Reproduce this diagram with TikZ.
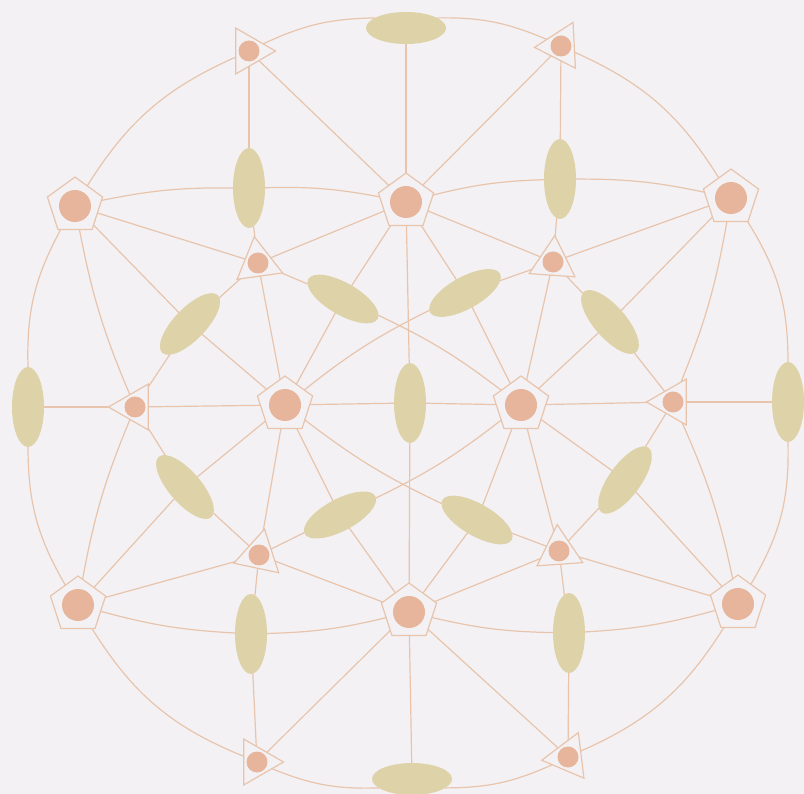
\documentclass[tikz,border=0pt]{standalone}
\usetikzlibrary{shapes.geometric}
\definecolor{bgc}{RGB}{243,241,244}
\definecolor{linec}{RGB}{232,196,172}
\definecolor{dotc}{RGB}{230,181,156}
\definecolor{ellc}{RGB}{222,210,168}
\begin{document}
\begin{tikzpicture}[x=1pt,y=1pt,
  edge/.style={draw=linec, line width=1.2pt},
  pent/.style={regular polygon, regular polygon sides=5, minimum size=58pt, inner sep=0pt, outer sep=0pt, draw=linec, line width=1.2pt, fill=bgc},
  tri/.style={regular polygon, regular polygon sides=3, minimum size=53pt, inner sep=0pt, outer sep=0pt, draw=linec, line width=1.2pt, fill=bgc},
  ell/.style={ellipse, minimum width=80pt, minimum height=32pt, inner sep=0pt, outer sep=0pt, fill=ellc},
  vell/.style={ellipse, minimum width=32pt, minimum height=80pt, inner sep=0pt, outer sep=0pt, fill=ellc}]
\fill[bgc] (0,0) rectangle (804,-794);
\useasboundingbox (0,0) rectangle (804,-794);
% pentagons
\node[pent] (P1) at (75,-206) {};
\node[pent] (P2) at (406,-202) {};
\node[pent] (P3) at (731,-198) {};
\node[pent] (P4) at (285,-405) {};
\node[pent] (P5) at (521,-405) {};
\node[pent] (P6) at (78,-605) {};
\node[pent] (P7) at (409,-612) {};
\node[pent] (P8) at (738,-604) {};
% triangles
\node[tri, rotate=-90] (T1) at (249,-51) {};
\node[tri, rotate=93] (T2) at (561,-46) {};
\node[tri, rotate=8] (T3) at (258,-263) {};
\node[tri, rotate=-4] (T4) at (553,-262) {};
\node[tri, rotate=90] (T5) at (135,-407) {};
\node[tri, rotate=90] (T6) at (673,-402) {};
\node[tri, rotate=-12] (T7) at (259,-555) {};
\node[tri, rotate=4] (T8) at (559,-551) {};
\node[tri, rotate=-90] (T9) at (257,-762) {};
\node[tri, rotate=97] (T10) at (568,-757) {};
% ellipses
\node[ell] (E1) at (406,-28) {};
\node[vell] (E2) at (249,-188) {};
\node[vell] (E3) at (560,-179) {};
\node[ell, rotate=-30] (E4) at (343,-299) {};
\node[ell, rotate=29] (E5) at (465,-293) {};
\node[ell, rotate=46] (E6) at (190,-324) {};
\node[ell, rotate=-49] (E7) at (610,-322) {};
\node[vell] (E8) at (28,-407) {};
\node[vell] (E9) at (410,-403) {};
\node[vell] (E10) at (788,-402) {};
\node[ell, rotate=-49] (E11) at (185,-487) {};
\node[ell, rotate=54] (E12) at (625,-480) {};
\node[ell, rotate=28] (E13) at (340,-515) {};
\node[ell, rotate=-30] (E14) at (477,-520) {};
\node[vell] (E15) at (251,-634) {};
\node[vell] (E16) at (569,-633) {};
\node[ell] (E17) at (412,-779) {};
% outer ring
\draw[edge] (T1) to[bend left=12] (E1.162);
\draw[edge] (E1.18) to[bend left=12] (T2);
\draw[edge] (T2) to[bend left=17] (P3);
\draw[edge] (P3) to[bend left=16] (E10.north);
\draw[edge] (E10.south) to[bend left=16] (P8);
\draw[edge] (P8) to[bend left=17] (T10);
\draw[edge] (T10) to[bend left=12] (E17.-15);
\draw[edge] (E17.195) to[bend left=12] (T9);
\draw[edge] (T9) to[bend left=18] (P6);
\draw[edge] (P6) to[bend left=15] (E8.south);
\draw[edge] (E8.north) to[bend left=15] (P1);
\draw[edge] (P1) to[bend left=17] (T1);
% upper part
\draw[edge] (E1) -- (P2);
\draw[edge] (T1) -- (E2);
\draw[edge] (E2) -- (T3);
\draw[edge] (T1) -- (P2);
\draw[edge] (T2) -- (P2);
\draw[edge] (T2) -- (E3);
\draw[edge] (E3) -- (T4);
\draw[edge] (P1) to[bend left=6] (E2);
\draw[edge] (E2) to[bend left=6] (P2);
\draw[edge] (P2) to[bend left=6] (E3);
\draw[edge] (E3) to[bend left=6] (P3);
\draw[edge] (P1) -- (T3);
\draw[edge] (P2) -- (T3);
\draw[edge] (P2) -- (T4);
\draw[edge] (P3) -- (T4);
\draw[edge] (P1) -- (E6);
\draw[edge] (E6) -- (P4);
\draw[edge] (T3) -- (E6);
\draw[edge] (E6) -- (T5);
\draw[edge] (P3) -- (E7);
\draw[edge] (E7) -- (P5);
\draw[edge] (T4) -- (E7);
\draw[edge] (E7) -- (T6);
\draw[edge] (P1) to[bend right=6] (T5);
\draw[edge] (P3) to[bend left=6] (T6);
\draw[edge] (T3) -- (P4);
\draw[edge] (T4) -- (P5);
\draw[edge] (P2) -- (E4);
\draw[edge] (E4) -- (P4);
\draw[edge] (T3) -- (E4);
\draw[edge] (E4) to[bend left=6] (P5);
\draw[edge] (P2) -- (E5);
\draw[edge] (E5) -- (P5);
\draw[edge] (T4) -- (E5);
\draw[edge] (E5) to[bend right=6] (P4);
\draw[edge] (P2) -- (E9);
\draw[edge] (E9) -- (P7);
\draw[edge] (P4) -- (E9);
\draw[edge] (E9) -- (P5);
\draw[edge] (T5) -- (E8);
\draw[edge] (T5) -- (P4);
\draw[edge] (T6) -- (E10);
\draw[edge] (T6) -- (P5);
% lower part
\draw[edge] (P6) to[bend left=6] (T5);
\draw[edge] (P8) to[bend right=6] (T6);
\draw[edge] (P4) -- (E11);
\draw[edge] (E11) -- (P6);
\draw[edge] (T5) -- (E11);
\draw[edge] (E11) -- (T7);
\draw[edge] (P5) -- (E12);
\draw[edge] (E12) -- (P8);
\draw[edge] (T6) -- (E12);
\draw[edge] (E12) -- (T8);
\draw[edge] (T7) -- (P4);
\draw[edge] (T8) -- (P5);
\draw[edge] (P7) -- (E13);
\draw[edge] (E13) -- (P4);
\draw[edge] (T7) -- (E13);
\draw[edge] (E13) to[bend right=6] (P5);
\draw[edge] (P7) -- (E14);
\draw[edge] (E14) -- (P5);
\draw[edge] (T8) -- (E14);
\draw[edge] (E14) to[bend left=6] (P4);
\draw[edge] (P6) -- (T7);
\draw[edge] (T7) -- (P7);
\draw[edge] (P7) -- (T8);
\draw[edge] (T8) -- (P8);
\draw[edge] (P6) to[bend right=6] (E15);
\draw[edge] (E15) to[bend right=6] (P7);
\draw[edge] (P7) to[bend right=6] (E16);
\draw[edge] (E16) to[bend right=6] (P8);
\draw[edge] (T7) -- (E15);
\draw[edge] (E15) -- (T9);
\draw[edge] (T8) -- (E16);
\draw[edge] (E16) -- (T10);
\draw[edge] (P7) -- (T9);
\draw[edge] (P7) -- (T10);
\draw[edge] (P7) -- (E17);
% dots
\foreach \n in {P1,P2,P3,P4,P5,P6,P7,P8} \fill[dotc] (\n.center) circle (16);
\foreach \n in {T1,T2,T3,T4,T5,T6,T7,T8,T9,T10} \fill[dotc] (\n.center) circle (10.5);
\end{tikzpicture}
\end{document}
